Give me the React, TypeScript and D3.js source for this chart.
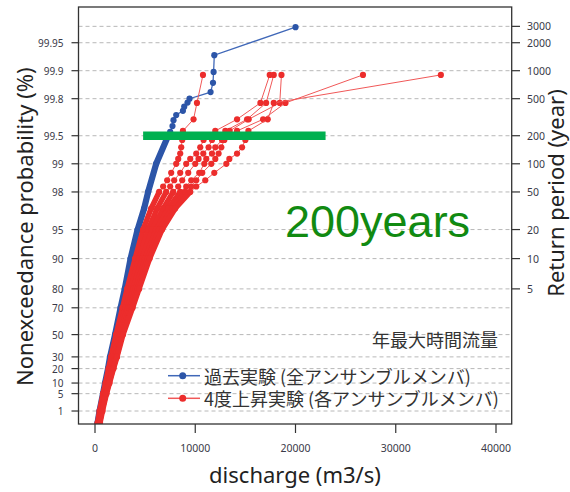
import React from 'react';
import * as d3 from 'd3';

// ---- axis ticks ----
const PROB_TICKS = [1, 5, 10, 20, 30, 50, 70, 80, 90, 95, 98, 99, 99.5, 99.8, 99.9, 99.95];
const PROB_LABELS = ['1', '5', '10', '20', '30', '50', '70', '80', '90', '95', '98', '99', '99.5', '99.8', '99.9', '99.95'];
const RETURN_TICKS = [5, 10, 20, 50, 100, 200, 500, 1000, 2000, 3000];
const X_TICKS = [0, 10000, 20000, 30000, 40000];

// ---- past experiment (all members pooled) ----
const BLUE_DENSE_P = [0.2, 1, 5, 10, 20, 30, 50, 70, 80, 90, 95, 97, 98, 99, 99.5];
const BLUE_DENSE_Q = [250, 450, 800, 1000, 1300, 1500, 2000, 2550, 2970, 3550, 4250, 4900, 5300, 6100, 7300];
const BLUE_TAIL_P = [99.966, 99.932, 99.897, 99.865, 99.83, 99.8, 99.78, 99.756, 99.73, 99.7, 99.66, 99.606, 99.546];
const BLUE_TAIL_Q = [20000, 11900, 11830, 11770, 11530, 9430, 9230, 8900, 8770, 8100, 7830, 7730, 7500];

// ---- +4K experiment (each member) ----
const RED_DENSE_P = [0.2, 1, 5, 10, 20, 30, 50, 70, 80, 90, 95, 97, 98];
const RED_UPPER_P = [99.889, 99.778, 99.667, 99.556, 99.445, 99.334, 99.223, 99.112, 99, 98.75, 98.5, 98.25];

const RED_A_DENSE = [250, 450, 800, 1050, 1350, 1600, 2100, 2750, 3200, 4000, 4800, 5600, 6400];
const RED_A_UPPER = [10770, 10170, 9830, 8770, 8700, 8600, 8500, 8300, 8100, 7600, 7200, 6800];
const RED_B_DENSE = [300, 550, 900, 1200, 1500, 1800, 2250, 3050, 3550, 4400, 5300, 6200, 7100];
const RED_B_UPPER = [17430, 16500, 14170, 12000, 10830, 10500, 10100, 9500, 9100, 8500, 7900, 7500];
const RED_C_DENSE = [350, 600, 1000, 1300, 1650, 1950, 2400, 3300, 3800, 4700, 5700, 6800, 7800];
const RED_C_UPPER = [17830, 17070, 15170, 13000, 11670, 11330, 10800, 10330, 10000, 9300, 8700, 8300];
const RED_D_DENSE = [400, 650, 1050, 1350, 1700, 2050, 2550, 3500, 4050, 5000, 6100, 7300, 8500];
const RED_D_UPPER = [18600, 18430, 15330, 13430, 12670, 12000, 11670, 11100, 10900, 10400, 9600, 9100];
const RED_E_DENSE = [450, 700, 1100, 1400, 1800, 2150, 2700, 3650, 4250, 5250, 6400, 7700, 9000];
const RED_E_UPPER = [26730, 19000, 16770, 14170, 12900, 12600, 12330, 12000, 11600, 10700, 10100, 9600];
const RED_F_DENSE = [500, 750, 1150, 1450, 1850, 2200, 2800, 3750, 4400, 5450, 6700, 8000, 9500];
const RED_F_UPPER = [34500, 17830, 17230, 15300, 15000, 14670, 14170, 13400, 13100, 11900, 11000, 10100];

// ---- 200-year marker ----
const LEVEL_200 = 99.5;
const GREEN_FROM = 4800;
const GREEN_TO = 23000;

type Pt = { p: number; q: number };
const zip = (ps: number[], qs: number[]): Pt[] => ps.map((p, i) => ({ p, q: qs[i] }));
const gumbel = (p: number) => -Math.log(-Math.log(p / 100));
const retToP = (t: number) => 100 * (1 - 1 / t);

const W = 570;
const H = 492;
const L = 78.5, R = 511.7, T = 7, B = 424;

const x = d3.scaleLinear().domain([0, 40000]).range([95, 496]);
const y = d3.scaleLinear().domain([-1.849, 8.486]).range([B, T]);

const line = d3
  .line<Pt>()
  .x((d) => x(d.q))
  .y((d) => y(gumbel(d.p)));

const BLUE = '#2c55a8';
const BLUE_LINE = '#4068b8';
const RED = '#ec2d2c';
const RED_LINE = '#f05858';

function Series({ dense, tail, color, lineColor, lw, bw }: { dense: Pt[]; tail: Pt[]; color: string; lineColor: string; lw: number; bw: number }) {
  const tailAsc = [...tail].sort((a, b) => a.p - b.p);
  const all = [...dense, ...tailAsc];
  return (
    <g>
      <path d={line(all) || ''} fill="none" stroke={lineColor} strokeWidth={lw} />
      <path d={line(dense) || ''} fill="none" stroke={color} strokeWidth={bw} strokeLinejoin="round" strokeLinecap="round" />
      {all.map((d, i) => (
        <circle key={i} cx={x(d.q)} cy={y(gumbel(d.p))} r={3.1} fill={color} />
      ))}
    </g>
  );
}

export default function App() {
  const gridPs = Array.from(new Set([...PROB_TICKS, ...RETURN_TICKS.map(retToP)]));
  const reds = [
    [RED_A_DENSE, RED_A_UPPER],
    [RED_B_DENSE, RED_B_UPPER],
    [RED_C_DENSE, RED_C_UPPER],
    [RED_D_DENSE, RED_D_UPPER],
    [RED_E_DENSE, RED_E_UPPER],
    [RED_F_DENSE, RED_F_UPPER],
  ];
  const tickFont = "'Noto Sans', 'Open Sans', sans-serif";
  const jp = "'Noto Sans CJK JP', 'Noto Sans', sans-serif";
  return (
    <svg width={W} height={H} style={{ position: 'absolute', left: 0, top: 0, background: '#fff' }}>
      <defs>
        <clipPath id="plot">
          <rect x={L} y={T} width={R - L} height={B - T} />
        </clipPath>
      </defs>
      <rect x={0} y={0} width={W} height={H} fill="#fff" />
      {/* grid */}
      {gridPs.map((p, i) => (
        <line key={i} x1={L} x2={R} y1={y(gumbel(p))} y2={y(gumbel(p))} stroke="#b8b8b8" strokeWidth={1} strokeDasharray="4,3" />
      ))}
      {/* data */}
      <g clipPath="url(#plot)">
        <Series dense={zip(BLUE_DENSE_P, BLUE_DENSE_Q)} tail={zip(BLUE_TAIL_P, BLUE_TAIL_Q)} color={BLUE} lineColor={BLUE_LINE} lw={1.3} bw={6.2} />
        {reds.map(([dq, tq], i) => (
          <Series key={i} dense={zip(RED_DENSE_P, dq)} tail={zip(RED_UPPER_P, tq)} color={RED} lineColor={RED_LINE} lw={1} bw={5.4} />
        ))}
        <line x1={x(GREEN_FROM)} x2={x(GREEN_TO)} y1={y(gumbel(LEVEL_200))} y2={y(gumbel(LEVEL_200))} stroke="#00b050" strokeWidth={8.5} />
      </g>
      {/* frame */}
      <rect x={L} y={T} width={R - L} height={B - T} fill="none" stroke="#333" strokeWidth={1.3} />
      {/* left axis */}
      {PROB_TICKS.map((p, i) => (
        <g key={i}>
          <line x1={71.5} x2={L} y1={y(gumbel(p))} y2={y(gumbel(p))} stroke="#333" strokeWidth={1.2} />
          <text x={63.5} y={y(gumbel(p))} textAnchor="end" dominantBaseline="central" fontFamily={tickFont} fontSize={10} fill="#3a3a48">
            {PROB_LABELS[i]}
          </text>
        </g>
      ))}
      {/* right axis */}
      {RETURN_TICKS.map((t, i) => (
        <g key={i}>
          <line x1={R} x2={520} y1={y(gumbel(retToP(t)))} y2={y(gumbel(retToP(t)))} stroke="#333" strokeWidth={1.2} />
          <text x={527} y={y(gumbel(retToP(t)))} dominantBaseline="central" fontFamily={tickFont} fontSize={10.5} fill="#3a3a48">
            {t}
          </text>
        </g>
      ))}
      {/* bottom axis */}
      {X_TICKS.map((v, i) => (
        <g key={i}>
          <line x1={x(v)} x2={x(v)} y1={B} y2={433} stroke="#333" strokeWidth={1.2} />
          <text x={x(v)} y={451.5} textAnchor="middle" fontFamily={tickFont} fontSize={10.5} fill="#3a3a48">
            {v}
          </text>
        </g>
      ))}
      {/* axis titles */}
      <text x={295} y={483} textAnchor="middle" fontFamily={tickFont} fontSize={22} fill="#222">
        discharge (m3/s)
      </text>
      <text transform="translate(33,226.7) rotate(-90)" textAnchor="middle" fontFamily={tickFont} fontSize={22} fill="#222">
        Nonexceedance probability (%)
      </text>
      <text transform="translate(564,193) rotate(-90)" textAnchor="middle" fontFamily={tickFont} fontSize={22} fill="#222">
        Return period (year)
      </text>
      {/* annotations */}
      <text x={285} y={236.5} fontFamily="'Liberation Sans', Arial, sans-serif" fontSize={45} fill="#118a11">
        200years
      </text>
      <text x={498} y={338.5} textAnchor="end" dominantBaseline="central" fontFamily={jp} fontSize={18} fill="#333">
        年最大時間流量
      </text>
      {/* legend */}
      <g>
        <line x1={168} x2={200} y1={375.7} y2={375.7} stroke={BLUE_LINE} strokeWidth={1.5} />
        <circle cx={182.7} cy={375.7} r={3.5} fill={BLUE} />
        <text x={204} y={375.7} dominantBaseline="central" fontFamily={jp} fontSize={18} fill="#333">
          過去実験 (全アンサンブルメンバ)
        </text>
        <line x1={168} x2={200} y1={398.3} y2={398.3} stroke={RED_LINE} strokeWidth={1.5} />
        <circle cx={182.7} cy={398.3} r={3.5} fill={RED} />
        <text x={204} y={398.3} dominantBaseline="central" fontFamily={jp} fontSize={18} fill="#333">
          4度上昇実験 (各アンサンブルメンバ)
        </text>
      </g>
    </svg>
  );
}
